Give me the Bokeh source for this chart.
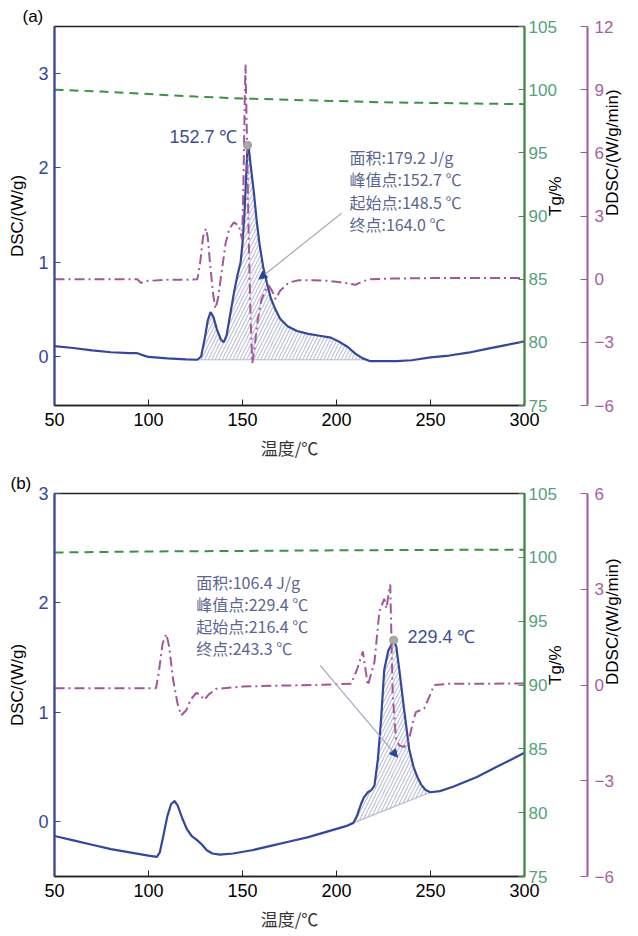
import math
from bokeh.plotting import figure
from bokeh.models import (Range1d, LinearAxis, FixedTicker, Label, Arrow, NormalHead)
from bokeh.layouts import column
from bokeh.embed import file_html
from bokeh.resources import INLINE

# ---------------- data: panel (a) ----------------
a_dsc_x = [50, 60, 70, 80, 90, 94, 96, 100, 110, 120, 126, 128, 130, 131.5, 133, 134.5, 136.5,
           138.5, 140, 141.5, 143.5, 145.5, 147.2, 149, 150, 151, 151.8, 152.7, 153.3, 154.5,
           156, 157.5, 159, 161, 163, 165, 167.5, 170, 174, 179, 185, 191, 197, 202, 206, 210,
           214, 218, 222, 232, 240, 250, 260, 270, 280, 290, 300]
a_dsc_y = [0.11, 0.09, 0.065, 0.045, 0.035, 0.035, 0.02, -0.005, -0.02, -0.03, -0.035, 0.0, 0.2,
           0.38, 0.47, 0.42, 0.28, 0.18, 0.15, 0.22, 0.45, 0.68, 0.85, 1.0, 1.2, 1.5, 1.85, 2.24,
           2.22, 2.0, 1.75, 1.45, 1.2, 0.95, 0.78, 0.62, 0.5, 0.4, 0.32, 0.27, 0.24, 0.22, 0.2,
           0.15, 0.1, 0.03, -0.02, -0.05, -0.05, -0.05, -0.04, -0.01, 0.01, 0.04, 0.08, 0.12, 0.16]
a_base_x = [127, 215]
a_base_y = [-0.035, -0.035]

a_tg_x = [50, 75, 100, 125, 150, 175, 200, 225, 250, 275, 300]
a_tg_y = [100.0, 99.85, 99.65, 99.45, 99.3, 99.2, 99.1, 99.0, 98.95, 98.9, 98.85]

a_dd_x = [50, 70, 90, 94, 96, 98, 100, 110, 120, 126, 127.5, 129, 130.5, 131.5, 133, 134.5,
          135.6, 137, 139, 141, 143, 145.4, 147, 148, 149.8, 150.5, 151.2, 151.6, 152.3, 153.2,
          154.2, 155.2, 156.5, 158, 160, 162, 164, 166, 167.6, 170, 174.6, 180, 188, 195, 202,
          206, 210, 214, 218, 230, 250, 270, 300]
a_dd_y = [0.0, 0.0, 0.0, 0.0, -0.18, -0.1, -0.08, -0.03, -0.03, 0.0, 0.8, 2.0, 2.4, 2.0, 0.5,
          -0.8, -1.4, -0.9, 0.4, 1.7, 2.4, 2.7, 2.6, 2.55, 1.9, 4.5, 8.5, 10.2, 7.0, 2.5, -1.5,
          -4.0, -3.2, -2.0, -1.0, -0.55, -0.3, -0.6, -0.95, -0.55, -0.16, -0.05, -0.05, -0.08,
          -0.15, -0.2, -0.27, -0.1, 0.0, 0.03, 0.05, 0.05, 0.05]

# ---------------- data: panel (b) ----------------
b_dsc_x = [50, 60, 70, 80, 90, 100, 104.5, 106, 108, 110, 112, 113.8, 115.5, 118, 120.5, 123,
           126, 128.5, 131, 134, 138, 145, 155, 165, 175, 185, 195, 205, 209, 211, 213, 214.5,
           216.7, 218.5, 220.2, 222, 223.7, 225.4, 227.5, 230.4, 231.8, 233.4, 236, 238.7, 241,
           243, 245, 247.4, 250, 255, 262, 274.7, 285, 300]
b_dsc_y = [-0.13, -0.17, -0.21, -0.25, -0.28, -0.31, -0.32, -0.28, -0.12, 0.05, 0.16, 0.19,
           0.15, 0.03, -0.07, -0.13, -0.17, -0.21, -0.26, -0.29, -0.3, -0.29, -0.26, -0.22,
           -0.18, -0.14, -0.09, -0.04, -0.01, 0.06, 0.16, 0.22, 0.27, 0.29, 0.33, 0.57, 0.93,
           1.39, 1.56, 1.66, 1.6, 1.39, 1.02, 0.66, 0.5, 0.41, 0.34, 0.29, 0.27, 0.28, 0.32,
           0.41, 0.5, 0.63]
b_base_x = [209, 250]
b_base_y = [-0.01, 0.27]

b_tg_x = [50, 75, 100, 150, 200, 250, 300]
b_tg_y = [100.38, 100.42, 100.46, 100.5, 100.55, 100.58, 100.6]

b_dd_x = [50, 70, 90, 104, 105.5, 107.5, 109.5, 111, 113, 115.5, 117.4, 120, 122.5, 125.4,
          127.5, 129.6, 132, 136, 150, 170, 190, 207.8, 211, 214, 216.7, 220.2, 222.8, 225.4,
          226.6, 227.6, 228.6, 229.2, 229.9, 231.6, 233.4, 236, 238.7, 240.5, 242.2, 246.6,
          249.5, 251.9, 260, 280, 300]
b_dd_y = [-0.1, -0.1, -0.1, -0.1, 0.4, 1.3, 1.6, 1.2, 0.2, -0.6, -0.95, -0.8, -0.45, -0.25,
          -0.3, -0.47, -0.3, -0.12, -0.05, -0.02, 0.0, 0.04, 0.5, 1.05, -0.01, 0.72, 2.3, 2.7,
          2.4, 2.8, 3.15, 1.5, -0.3, -1.68, -1.9, -1.94, -1.68, -1.2, -0.85, -0.74, -0.35, 0.0,
          0.04, 0.04, 0.05]

x_ticks = [50, 100, 150, 200, 250, 300]
dsc_ticks = [0, 1, 2, 3]
tg_ticks = [75, 80, 85, 90, 95, 100, 105]
a_dd_ticks = [-6, -3, 0, 3, 6, 9, 12]
b_dd_ticks = [-6, -3, 0, 3, 6]

a_info = ["面积:179.2 J/g", "峰值点:152.7 ℃", "起始点:148.5 ℃", "终点:164.0 ℃"]
b_info = ["面积:106.4 J/g", "峰值点:229.4 ℃", "起始点:216.4 ℃", "终点:243.3 ℃"]
a_peak = (152.7, 2.24, "152.7 ℃")
b_peak = (230.4, 1.66, "229.4 ℃")

BLUE = "#34479a"
GREEN = "#3f8f45"
GREEN_T = "#55a07c"
PURPLE = "#a2579a"
PURPLE_T = "#a8609f"
INFO = "#5b6690"
SANS = "Liberation Sans"
CJK = "Noto Sans CJK SC"


def set_orient(axis, ang):
    try:
        axis.axis_label_orientation = ang
    except Exception:
        pass


def make_panel(height, ylo, yhi, dd_lo, dd_hi, dd_ticks, top, bottom, right,
               dsc_x, dsc_y, base_x, base_y, tg_x, tg_y, dd_x, dd_y,
               info, info_x, info_y, peak, peak_lbl_xy, peak_align,
               arrow_from, arrow_to, tag, tag_offset):
    p = figure(width=638, height=height, x_range=Range1d(50, 300),
               y_range=Range1d(ylo, yhi), output_backend="svg", toolbar_location=None,
               min_border_left=54, min_border_top=top, min_border_bottom=bottom,
               min_border_right=right)
    p.extra_y_ranges = {"tg": Range1d(75, 105), "dd": Range1d(dd_lo, dd_hi)}
    p.grid.visible = False
    p.outline_line_color = "#222222"
    p.outline_line_width = 1.5
    p.background_fill_color = "white"
    p.border_fill_color = "white"

    p.title.text = tag
    p.title.align = "left"
    p.title.offset = tag_offset
    p.title.text_font = SANS
    p.title.text_font_size = "17px"
    p.title.text_font_style = "normal"
    p.title.text_color = "black"
    p.title.standoff = 2

    xa = p.xaxis[0]
    xa.ticker = FixedTicker(ticks=x_ticks)
    xa.major_tick_in = 6
    xa.major_tick_out = 0
    xa.minor_tick_line_color = None
    xa.axis_line_color = "#222222"
    xa.axis_line_width = 1.5
    xa.major_tick_line_color = "#222222"
    xa.major_label_text_font = SANS
    xa.major_label_text_font_size = "18px"
    xa.major_label_text_color = "black"
    xa.major_label_standoff = 7
    xa.axis_label = "温度/℃"
    xa.axis_label_text_font = CJK
    xa.axis_label_text_font_size = "17px"
    xa.axis_label_text_font_style = "normal"
    xa.axis_label_text_color = "#333333"
    xa.axis_label_standoff = 6

    ya = p.yaxis[0]
    ya.ticker = FixedTicker(ticks=dsc_ticks)
    ya.major_tick_in = 6
    ya.major_tick_out = 0
    ya.minor_tick_line_color = None
    ya.axis_line_color = BLUE
    ya.axis_line_width = 2
    ya.major_tick_line_color = BLUE
    ya.major_label_text_font = SANS
    ya.major_label_text_font_size = "18px"
    ya.major_label_text_color = BLUE
    ya.major_label_standoff = 6
    ya.axis_label = "DSC/(W/g)"
    ya.axis_label_text_font = SANS
    ya.axis_label_text_font_size = "17px"
    ya.axis_label_text_font_style = "normal"
    ya.axis_label_text_color = "black"
    ya.axis_label_standoff = 8

    ga = LinearAxis(y_range_name="tg", ticker=FixedTicker(ticks=tg_ticks),
                    major_tick_in=6, major_tick_out=0, minor_tick_line_color=None,
                    axis_line_color=GREEN, axis_line_width=2, major_tick_line_color=GREEN,
                    major_label_text_font=SANS, major_label_text_font_size="17px",
                    major_label_text_color=GREEN_T, major_label_standoff=4,
                    axis_label="Tg/%", axis_label_text_font=SANS,
                    axis_label_text_font_size="17px", axis_label_text_font_style="normal",
                    axis_label_text_color="black", axis_label_standoff=-4)
    set_orient(ga, math.pi / 2)
    p.add_layout(ga, "right")
    # blank spacer between the Tg axis and the DDSC axis
    spacer = LinearAxis(y_range_name="tg", ticker=FixedTicker(ticks=[]),
                        axis_line_color=None, major_tick_line_color=None,
                        minor_tick_line_color=None, major_tick_in=0, major_tick_out=0,
                        axis_label=" ", axis_label_text_font_size="7px",
                        axis_label_standoff=0)
    p.add_layout(spacer, "right")
    overrides = {t: ("−" + str(-t)) for t in dd_ticks if t < 0}
    pa = LinearAxis(y_range_name="dd", ticker=FixedTicker(ticks=dd_ticks),
                    major_tick_in=7, major_tick_out=0, minor_tick_line_color=None,
                    axis_line_color=PURPLE, axis_line_width=2, major_tick_line_color=PURPLE,
                    major_label_text_font=SANS, major_label_text_font_size="17px",
                    major_label_text_color=PURPLE_T, major_label_standoff=7,
                    major_label_overrides=overrides,
                    axis_label="DDSC/(W/g/min)", axis_label_text_font=SANS,
                    axis_label_text_font_size="17px", axis_label_text_font_style="normal",
                    axis_label_text_color="black", axis_label_standoff=-4)
    set_orient(pa, math.pi / 2)
    p.add_layout(pa, "right")

    # hatched area between curve and baseline
    hx = [x for x in dsc_x if base_x[0] <= x <= base_x[1]]
    hy = [y for x, y in zip(dsc_x, dsc_y) if base_x[0] <= x <= base_x[1]]
    px_ = [base_x[0]] + hx + [base_x[1]]
    py_ = [base_y[0]] + hy + [base_y[1]]
    p.patch(px_, py_, fill_color="white", fill_alpha=0, line_color=None,
            hatch_pattern="/", hatch_color="#8a92bb", hatch_alpha=0.7,
            hatch_weight=1, hatch_scale=7)
    p.line(base_x, base_y, line_color="#b5bad6", line_width=1.2)

    p.line(tg_x, tg_y, y_range_name="tg", line_color=GREEN, line_width=2,
           line_dash="9 6")
    p.line(dsc_x, dsc_y, line_color=BLUE, line_width=2.2)
    p.line(dd_x, dd_y, y_range_name="dd", line_color=PURPLE, line_width=2,
           line_dash="10 4 2 4")

    p.scatter([peak[0]], [peak[1]], size=8, fill_color="#a9a9a9", line_color="#999999")
    p.add_layout(Label(x=peak_lbl_xy[0], y=peak_lbl_xy[1], text=peak[2], text_font=SANS,
                       text_font_size="18px", text_color="#3d4f8f", text_align=peak_align,
                       text_baseline="middle"))

    for t, yy in zip(info, info_y):
        p.add_layout(Label(x=info_x, y=yy, text=t, text_font=CJK, text_font_size="16px",
                           text_color=INFO, text_align="left", text_baseline="middle"))

    p.add_layout(Arrow(x_start=arrow_from[0], y_start=arrow_from[1], x_end=arrow_to[0],
                       y_end=arrow_to[1], line_color="#a5a8b8", line_width=1.2,
                       end=NormalHead(size=8, fill_color="#2f4594", line_color="#2f4594")))
    return p


p1 = make_panel(462, -0.52, 3.5, -6, 12, a_dd_ticks, 26, 55, 114,
                a_dsc_x, a_dsc_y, a_base_x, a_base_y, a_tg_x, a_tg_y, a_dd_x, a_dd_y,
                a_info, 206.9, [2.12, 1.88, 1.64, 1.41], a_peak, (147.3, 2.33), "right",
                (202.7, 1.52), (158.7, 0.82), "(a)", -32)
p2 = make_panel(474, -0.5, 3.0, -6, 6, b_dd_ticks, 31, 60, 110,
                b_dsc_x, b_dsc_y, b_base_x, b_base_y, b_tg_x, b_tg_y, b_dd_x, b_dd_y,
                b_info, 125.4, [2.19, 1.99, 1.79, 1.59], b_peak, (237.7, 1.69), "left",
                (191.3, 1.43), (232.5, 0.59), "(b)", -44)

layout = column(p1, p2, spacing=0)
open("out.html", "w").write(file_html(layout, INLINE))
